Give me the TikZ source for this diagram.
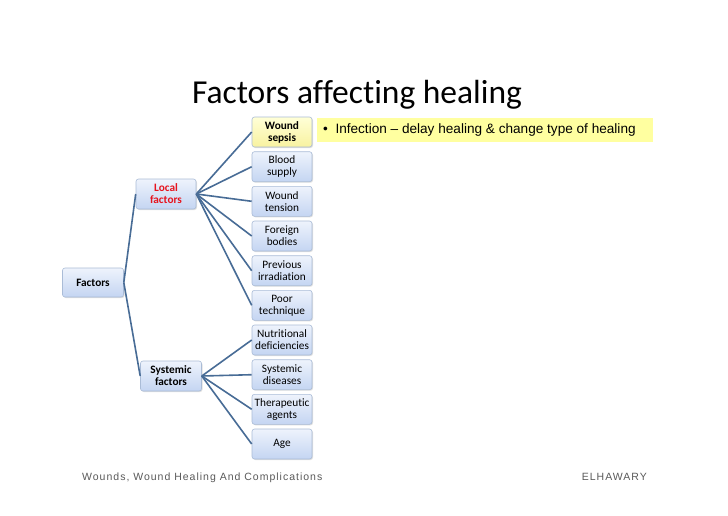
\documentclass[tikz,border=0pt]{standalone}
\usepackage{fontspec}
\setmainfont[Ligatures=NoCommon]{Carlito}
\newfontfamily\arialfont{Liberation Sans}
\newfontfamily\footfont[LetterSpace=9.5]{Liberation Sans}
\usetikzlibrary{shadows}
\definecolor{linec}{RGB}{72,108,150}
\definecolor{boxborder}{RGB}{170,188,215}
\definecolor{boxtop}{RGB}{238,243,252}
\definecolor{boxbot}{RGB}{196,213,242}
\definecolor{hiyellow}{RGB}{255,255,160}
\definecolor{sepsistop}{RGB}{255,255,215}
\definecolor{sepsisbot}{RGB}{248,242,160}
\definecolor{localred}{RGB}{230,20,30}
\definecolor{footgray}{RGB}{90,90,90}
\tikzset{
  fbox/.style={draw=boxborder, line width=0.6pt, rounded corners=2.5pt,
    top color=boxtop, bottom color=boxbot, minimum width=60pt, minimum height=30pt,
    inner sep=1pt, align=center, font=\fontsize{11.3}{12}\selectfont,
    drop shadow={shadow xshift=1pt, shadow yshift=-1pt, opacity=0.25}},
  conn/.style={draw=linec, line width=1.6pt},
}
\begin{document}
\begin{tikzpicture}[x=1pt,y=-1pt]
\useasboundingbox[fill=white] (0,0) rectangle (728,515);
\node[font=\fontsize{33.5}{36}\selectfont, anchor=base] (title) at (357,103) {Factors affecting healing};
% highlight
\node[fill=hiyellow, minimum width=336pt, minimum height=24pt, anchor=west, inner sep=0pt] (hl) at (317,130) {};
\node[anchor=west, font=\arialfont\fontsize{13.6}{15}\selectfont, inner sep=0pt] (hltext) at (323,130) {\textbullet\ \ Infection – delay healing \& change type of healing};
% nodes
\node[fbox, minimum width=61pt, minimum height=29pt] (F) at (93,282.5) {\textbf{Factors}};
\node[fbox] (L) at (166,194) {\textcolor{localred}{\textbf{Local}}\\\textcolor{localred}{\textbf{factors}}};
\node[fbox, minimum width=61pt] (S) at (171,376) {\textbf{Systemic}\\\textbf{factors}};
\node[fbox, top color=sepsistop, bottom color=sepsisbot] (r0) at (282,132) {\textbf{Wound}\\\textbf{sepsis}};
\node[fbox] (r1) at (282,166.7) {Blood\\supply};
\node[fbox] (r2) at (282,201.3) {Wound\\tension};
\node[fbox] (r3) at (282,236) {Foreign\\bodies};
\node[fbox] (r4) at (282,270.7) {Previous\\irradiation};
\node[fbox] (r5) at (282,305.3) {Poor\\technique};
\node[fbox] (r6) at (282,340) {Nutritional\\deficiencies};
\node[fbox] (r7) at (282,374.7) {Systemic\\diseases};
\node[fbox] (r8) at (282,409.3) {Therapeutic\\agents};
\node[fbox] (r9) at (282,444) {Age};
% connectors
\draw[conn] (F.east) -- (L.west);
\draw[conn] (F.east) -- (S.west);
\foreach \i in {0,...,5} { \draw[conn] (L.east) -- (r\i.west); }
\foreach \i in {6,...,9} { \draw[conn] (S.east) -- (r\i.west); }
% footer
\node[anchor=base west, font=\footfont\fontsize{10.5}{12}\selectfont, text=footgray, inner sep=0pt] (foot) at (82,480) {Wounds, Wound Healing And Complications};
\node[anchor=base east, font=\footfont\fontsize{10.5}{12}\selectfont, text=footgray, inner sep=0pt] (auth) at (647,480) {ELHAWARY};
\end{tikzpicture}
\end{document}
